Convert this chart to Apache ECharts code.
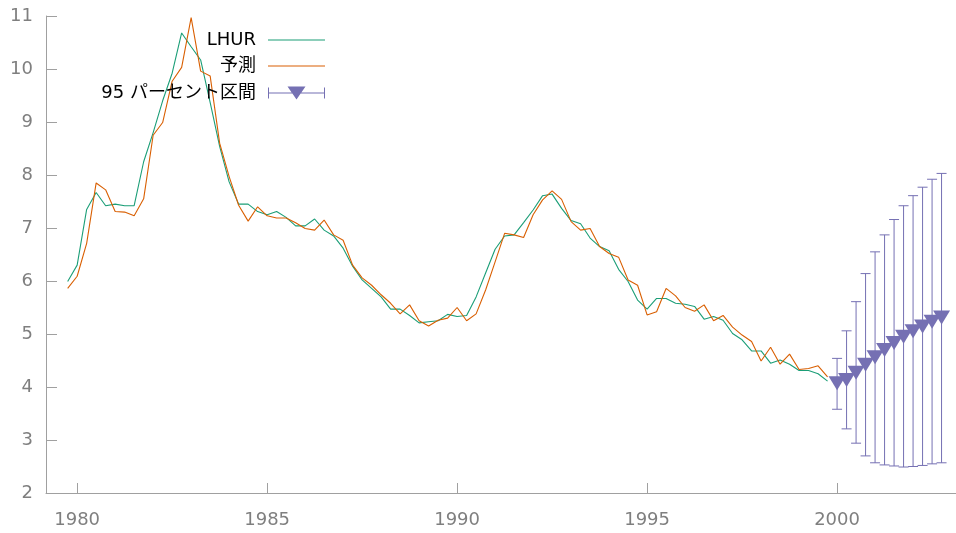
<!DOCTYPE html>
<html>
<head>
<meta charset="utf-8">
<script src="https://cdn.jsdelivr.net/npm/echarts@6/dist/echarts.min.js"></script>
<style>
  html, body { margin: 0; padding: 0; background: #fff; }
  #chart { width: 956px; height: 533px; }
</style>
</head>
<body>
<div id="chart"></div>
<script>
// quarterly series, first observation 1979Q4
const firstPeriod = 1979.75;
const lhur = [
  5.99,
  6.30, 7.35, 7.67, 7.42,
  7.45, 7.42, 7.42, 8.25,
  8.80, 9.40, 9.92, 10.68,
  10.42, 10.17, 9.37, 8.54,
  7.87, 7.45, 7.45, 7.31,
  7.25, 7.31, 7.20, 7.04,
  7.04, 7.17, 6.96, 6.85,
  6.62, 6.28, 6.02, 5.86,
  5.70, 5.47, 5.47, 5.35,
  5.21, 5.23, 5.25, 5.37,
  5.33, 5.35, 5.70, 6.15,
  6.60, 6.85, 6.87, 7.10,
  7.34, 7.61, 7.64, 7.37,
  7.14, 7.08, 6.81, 6.65,
  6.57, 6.22, 5.99, 5.64,
  5.47, 5.67, 5.67, 5.58,
  5.56, 5.52, 5.28, 5.33,
  5.26, 5.01, 4.89, 4.68,
  4.68, 4.45, 4.51, 4.43,
  4.31, 4.31, 4.25, 4.11
];
const fitted = [
  5.86,
  6.09, 6.71, 7.85, 7.72,
  7.31, 7.30, 7.23, 7.55,
  8.75, 8.99, 9.77, 10.03,
  10.97, 9.96, 9.87, 8.60,
  7.97, 7.43, 7.13, 7.40,
  7.23, 7.19, 7.19, 7.10,
  6.99, 6.96, 7.15, 6.87,
  6.77, 6.30, 6.06, 5.92,
  5.74, 5.58, 5.38, 5.55,
  5.25, 5.15, 5.26, 5.30,
  5.50, 5.25, 5.38, 5.83,
  6.36, 6.90, 6.87, 6.82,
  7.25, 7.53, 7.70, 7.54,
  7.12, 6.96, 6.99, 6.65,
  6.52, 6.45, 6.02, 5.92,
  5.36, 5.42, 5.86, 5.72,
  5.50, 5.43, 5.55, 5.25,
  5.35, 5.13, 4.98, 4.86,
  4.49, 4.75, 4.43, 4.62,
  4.33, 4.35, 4.40, 4.19
];
// out-of-sample forecast, 2000Q1 .. 2002Q4
const fcPeriods = [2000.00, 2000.25, 2000.50, 2000.75, 2001.00, 2001.25, 2001.50, 2001.75, 2002.00, 2002.25, 2002.50, 2002.75];
const fcValue = [4.07, 4.13, 4.27, 4.42, 4.56, 4.70, 4.83, 4.95, 5.05, 5.14, 5.23, 5.31];
const fcLow = [3.58, 3.21, 2.94, 2.70, 2.57, 2.53, 2.51, 2.49, 2.50, 2.52, 2.55, 2.57];
const fcHigh = [4.54, 5.06, 5.61, 6.14, 6.55, 6.87, 7.16, 7.42, 7.61, 7.77, 7.92, 8.03];
const yearTicks = [1980, 1985, 1990, 1995, 2000];

const green = '#1b9e77';
const orange = '#d95f02';
const purple = '#7570b3';
const axisGray = '#a0a0a0';
const labelGray = '#7f7f7f';
const font = '"DejaVu Sans", "Noto Sans CJK JP", sans-serif';

const period = (i) => firstPeriod + i * 0.25;
const lhurData = lhur.map((v, i) => [period(i), v]);
const fittedData = fitted.map((v, i) => [period(i), v]);
const barData = fcPeriods.map((t, i) => [t, fcLow[i], fcHigh[i]]);
const pointData = fcPeriods.map((t, i) => [t, fcValue[i]]);

const intervalName = '95 パーセント区間';
// error bar icon: bar, two caps, down triangle (57 x 13)
const intervalIcon = 'path://M0,6 H57 V7 H0 Z M0,1 H1 V12 H0 Z M56,1 H57 V12 H56 Z M19.5,0 H37.5 L28.5,13 Z';

const legendBase = {
  orient: 'vertical',
  align: 'right',
  right: 631,
  padding: 0,
  itemWidth: 57,
  itemHeight: 13,
  selectedMode: false,
  textStyle: {
    color: '#000',
    fontSize: 18,
    fontFamily: font,
    padding: [0, 7, 0, 0]
  }
};

const chart = echarts.init(document.getElementById('chart'));
chart.setOption({
  animation: false,
  grid: { left: 46, right: 0, top: 16, bottom: 40, containLabel: false },
  legend: [
    Object.assign({}, legendBase, { top: 31, itemHeight: 1, data: [{ name: 'LHUR', icon: 'rect' }] }),
    Object.assign({}, legendBase, { top: 57, itemHeight: 1, data: [{ name: '予測', icon: 'rect' }] }),
    Object.assign({}, legendBase, { top: 84, data: [{ name: intervalName, icon: intervalIcon }] })
  ],
  xAxis: {
    type: 'value',
    min: 1979.18,
    max: 2003.13,
    splitLine: { show: false },
    axisLine: { lineStyle: { color: axisGray, width: 1 } },
    axisTick: {
      inside: true,
      length: 10,
      customValues: yearTicks,
      lineStyle: { color: axisGray }
    },
    axisLabel: {
      customValues: yearTicks,
      formatter: (v) => String(v),
      margin: 18,
      color: labelGray,
      fontSize: 18,
      fontFamily: font
    }
  },
  yAxis: {
    type: 'value',
    min: 2,
    max: 11,
    interval: 1,
    splitLine: { show: false },
    axisLine: { show: true, lineStyle: { color: axisGray, width: 1 } },
    axisTick: { inside: true, length: 11, lineStyle: { color: axisGray } },
    axisLabel: {
      margin: 13,
      color: labelGray,
      fontSize: 18,
      fontFamily: font
    }
  },
  series: [
    {
      name: 'LHUR',
      type: 'line',
      data: lhurData,
      symbol: 'none',
      color: green,
      lineStyle: { color: green, width: 1.1 }
    },
    {
      name: '予測',
      type: 'line',
      data: fittedData,
      symbol: 'none',
      color: orange,
      lineStyle: { color: orange, width: 1.1 }
    },
    {
      name: intervalName,
      type: 'custom',
      color: purple,
      data: barData,
      encode: { x: 0, y: [1, 2] },
      renderItem: function (params, api) {
        const low = api.coord([api.value(0), api.value(1)]);
        const high = api.coord([api.value(0), api.value(2)]);
        const cap = 5;
        const style = { stroke: purple, lineWidth: 1, fill: null };
        return {
          type: 'group',
          children: [
            { type: 'line', shape: { x1: low[0], y1: low[1], x2: high[0], y2: high[1] }, style: style },
            { type: 'line', shape: { x1: low[0] - cap, y1: low[1], x2: low[0] + cap, y2: low[1] }, style: style },
            { type: 'line', shape: { x1: high[0] - cap, y1: high[1], x2: high[0] + cap, y2: high[1] }, style: style }
          ]
        };
      },
      z: 3
    },
    {
      name: intervalName,
      type: 'scatter',
      data: pointData,
      symbol: 'triangle',
      symbolRotate: 180,
      symbolSize: [17, 14],
      itemStyle: { color: purple, opacity: 1 },
      z: 4
    }
  ]
});
</script>
</body>
</html>
